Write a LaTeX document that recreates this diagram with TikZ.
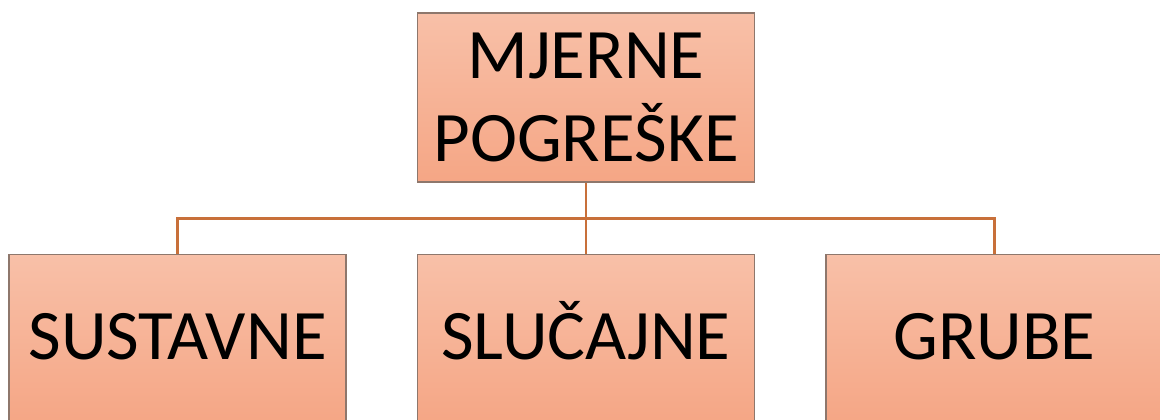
\documentclass[tikz,border=0pt]{standalone}
\usepackage{fontspec}
\setmainfont{Carlito}
\usetikzlibrary{positioning,calc}

\definecolor{boxtop}{HTML}{F8C0A8}
\definecolor{boxbot}{HTML}{F5A685}
\definecolor{boxline}{HTML}{8E776C}
\definecolor{linkcol}{HTML}{C8703A}

\tikzset{
  kind/.style={rectangle, draw=boxline, line width=0.7pt, top color=boxtop, bottom color=boxbot,
    minimum width=168.5pt, minimum height=84.5pt, inner sep=0pt, align=center,
    font=\fontsize{35.5}{41.5}\selectfont},
  leaf/.style={kind, text height=20.5pt, text depth=0pt},
  link/.style={draw=linkcol, line width=1.3pt}
}

\begin{document}
\begin{tikzpicture}[x=0.5pt,y=0.5pt]
      \useasboundingbox (0,0) rectangle (1160,419);
      % Main box
      \node[kind] (mjerne) at (586,321.5) {MJERNE\\POGREŠKE};
      % Kinds of errors
      \node[leaf, below=35.5pt of mjerne] (slucajne) {SLUČAJNE};
      \node[leaf, left=35pt of slucajne] (sustavne) {SUSTAVNE};
      \node[leaf, right=35pt of slucajne] (grube) {GRUBE};
      % Connectors
      \coordinate (bus) at ($(mjerne.south)!0.5!(slucajne.north)$);
      \draw[link] (mjerne.south) -- (slucajne.north);
      \draw[link] (sustavne.north) |- (bus) -| (grube.north);
\end{tikzpicture}
\end{document}
